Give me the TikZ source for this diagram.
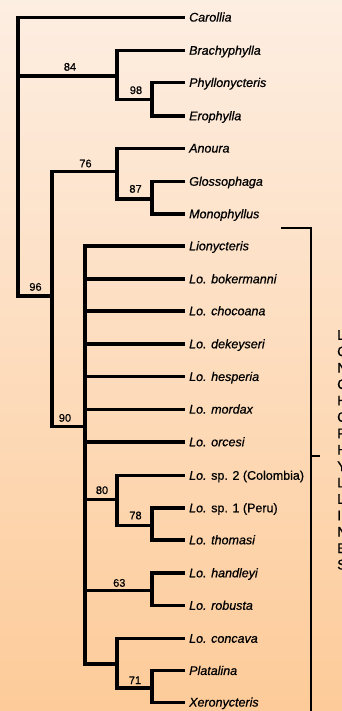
\documentclass[tikz,border=0pt]{standalone}
\usepackage{fontspec}
\setmainfont{Liberation Sans}[FakeBold=0.7]
\definecolor{bgtop}{RGB}{253,238,226}
\definecolor{bgbot}{RGB}{253,203,153}
\begin{document}
\begin{tikzpicture}[x=1pt,y=-1pt,
  br/.style={line width=3.3pt, line join=miter},
  tip/.style={anchor=west, inner xsep=4pt, inner ysep=0pt, text height=8.5pt, text depth=0pt, font=\fontsize{12.5}{14}\selectfont\itshape},
  bs/.style={anchor=base, inner sep=0pt, font=\fontsize{11}{13}\selectfont},
  grouptext/.style={anchor=north west, inner sep=0pt, align=left, font=\fontsize{14}{16.4}\selectfont},
  bracket/.style={line width=1.3pt}
  ]
\useasboundingbox (0,0) rectangle (342,711);
\shade[top color=bgtop,bottom color=bgbot] (0,0) rectangle (342,711);

% tips
\node[tip] (t0)  at (185,17.3)  {Carollia};
\node[tip] (t1)  at (185,50.5)  {Brachyphylla};
\node[tip] (t2)  at (185,82.7)  {Phyllonycteris};
\node[tip] (t3)  at (185,116)   {Erophylla};
\node[tip] (t4)  at (185,148.3) {Anoura};
\node[tip] (t5)  at (185,181.5) {Glossophaga};
\node[tip] (t6)  at (185,214)   {Monophyllus};
\node[tip] (t7)  at (185,246)   {Lionycteris};
\node[tip] (t8)  at (185,279)   {Lo. bokermanni};
\node[tip] (t9)  at (185,311)   {Lo. chocoana};
\node[tip] (t10) at (185,344)   {Lo. dekeyseri};
\node[tip] (t11) at (185,376.7) {Lo. hesperia};
\node[tip] (t12) at (185,409.3) {Lo. mordax};
\node[tip] (t13) at (185,442)   {Lo. orcesi};
\node[tip] (t14) at (185,475.5) {Lo. {\upshape sp. 2 (Colombia)}};
\node[tip] (t15) at (185,508)   {Lo. {\upshape sp. 1 (Peru)}};
\node[tip] (t16) at (185,540)   {Lo. thomasi};
\node[tip] (t17) at (185,573)   {Lo. handleyi};
\node[tip] (t18) at (185,605.5) {Lo. robusta};
\node[tip] (t19) at (185,638.5) {Lo. concava};
\node[tip] (t20) at (185,670.7) {Platalina};
\node[tip] (t21) at (185,702.3) {Xeronycteris};

% internal nodes
\coordinate (rt)  at (18,76);
\coordinate (n84) at (117,76);
\coordinate (n98) at (152,99.3);
\coordinate (n96) at (52,296);
\coordinate (n76) at (117,171.7);
\coordinate (n87) at (152,199);
\coordinate (n90) at (85,426.7);
\coordinate (n80) at (117,499.3);
\coordinate (n78) at (152,525.5);
\coordinate (n63) at (152,590.5);
\coordinate (nX)  at (117,664);
\coordinate (n71) at (152,688);

% branches
\draw[br] (t0.west) -| (rt) |- (n96);
\draw[br] (rt) -- (n84);
\draw[br] (t1.west) -| (n84) |- (n98);
\draw[br] (t2.west) -| (n98) |- (t3.west);
\draw[br] (n76) -| (n96) |- (n90);
\draw[br] (t4.west) -| (n76) |- (n87);
\draw[br] (t5.west) -| (n87) |- (t6.west);
\draw[br] (t7.west) -| (n90) |- (nX);
\foreach \t in {t8,t9,t10,t11,t12,t13}
  \draw[br] (n90 |- \t.west) -- (\t.west);
\draw[br] (n90 |- n80) -- (n80);
\draw[br] (t14.west) -| (n80) |- (n78);
\draw[br] (t15.west) -| (n78) |- (t16.west);
\draw[br] (n90 |- n63) -- (n63);
\draw[br] (t17.west) -| (n63) |- (t18.west);
\draw[br] (t19.west) -| (nX) |- (n71);
\draw[br] (t20.west) -| (n71) |- (t21.west);

% support values
\node[bs] (s84) at (70,70.7)    {84};
\node[bs] (s98) at (136,94)     {98};
\node[bs] (s76) at (85.5,167.3) {76};
\node[bs] (s87) at (135.5,192.7){87};
\node[bs] (s96) at (35.5,290.7) {96};
\node[bs] (s90) at (65,421.7)   {90};
\node[bs] (s80) at (102,494)    {80};
\node[bs] (s78) at (135.5,519.3){78};
\node[bs] (s63) at (119.3,586.7){63};
\node[bs] (s71) at (135,684)    {71};

% group bracket
\coordinate (bt) at (281,228);
\coordinate (bb) at (311,714);
\coordinate (tk) at (320,456);
\draw[bracket] (bt) -| (bb);
\draw[bracket] (bb |- tk) -- (tk);
\node[grouptext] (grp) at (337,330) {L\\O\\N\\C\\H\\O\\P\\H\\Y\\L\\L\\I\\N\\E\\S};
\end{tikzpicture}
\end{document}
